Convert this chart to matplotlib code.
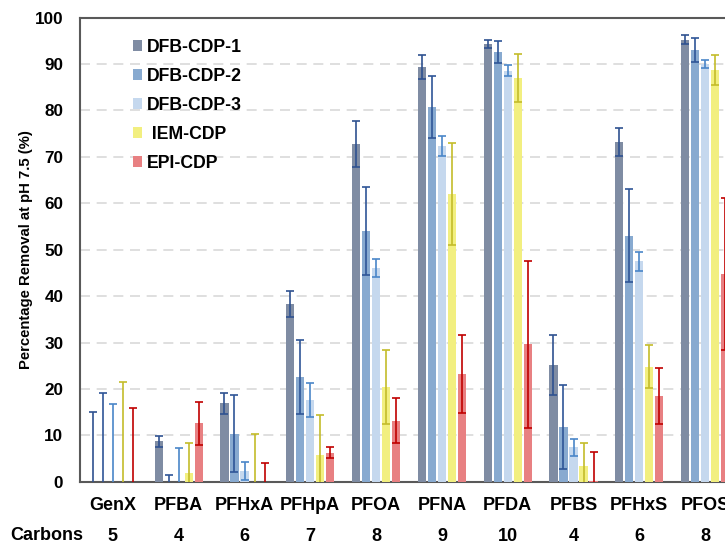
import numpy as np
import matplotlib
matplotlib.use("Agg")
import matplotlib.pyplot as plt
from matplotlib.patches import Patch

plt.rcParams['font.family'] = ['Liberation Sans', 'DejaVu Sans']
plt.rcParams['font.weight'] = 'bold'

# data
compounds = ['GenX', 'PFBA', 'PFHxA', 'PFHpA', 'PFOA', 'PFNA', 'PFDA', 'PFBS', 'PFHxS', 'PFOS']
carbons = [5, 4, 6, 7, 8, 9, 10, 4, 6, 8]
series = ['DFB-CDP-1', 'DFB-CDP-2', 'DFB-CDP-3', ' IEM-CDP', 'EPI-CDP']

dfb1 = [0, 8.7, 16.9, 38.3, 72.8, 89.4, 94.3, 25.2, 73.2, 95.2]
dfb1_err = [15.0, 1.1, 2.3, 2.8, 5.0, 2.6, 0.8, 6.4, 3.0, 1.0]
dfb2 = [0, 0, 10.4, 22.6, 54.0, 80.7, 92.6, 11.8, 53.0, 93.0]
dfb2_err = [19.1, 1.5, 8.3, 7.9, 9.4, 6.6, 2.3, 9.0, 10.0, 2.5]
dfb3 = [0, 0, 2.3, 17.6, 46.0, 72.3, 88.5, 7.4, 47.5, 90.0]
dfb3_err = [16.7, 7.3, 2.0, 3.6, 1.9, 2.2, 1.2, 1.8, 2.0, 0.9]
iem = [0, 1.8, 0, 5.8, 20.4, 61.9, 87.0, 3.5, 24.8, 88.7]
iem_err = [21.6, 6.5, 10.2, 8.5, 7.9, 11.0, 5.2, 4.9, 4.7, 3.3]
epi = [0, 12.6, 0, 6.3, 13.2, 23.3, 29.6, 0.2, 18.5, 44.7]
epi_err = [15.8, 4.6, 4.1, 1.1, 4.8, 8.4, 18.0, 6.3, 6.0, 16.4]

values = [dfb1, dfb2, dfb3, iem, epi]
errors = [dfb1_err, dfb2_err, dfb3_err, iem_err, epi_err]
bar_colors = ['#7f8ca3', '#88aad0', '#c5d8ee', '#f2ef80', '#e88082']
err_colors = ['#2f5290', '#2f5597', '#4a86c8', '#c4bc2a', '#c00000']

fig = plt.figure(figsize=(7.25, 5.44), dpi=100)
ax = fig.add_axes([80 / 725, 62.2 / 544, 658 / 725, 464.3 / 544])

x = np.arange(len(compounds))
pitch = 0.152
width = 0.122
for i in range(5):
    pos = x + (i - 2) * pitch
    ax.bar(pos, values[i], width, color=bar_colors[i], zorder=3)
    ax.errorbar(pos, values[i], yerr=errors[i], fmt='none', ecolor=err_colors[i],
                elinewidth=1.2, capsize=2.7, capthick=1.2, zorder=4)

ax.set_xlim(-0.5, len(compounds) - 0.5)
ax.set_ylim(0, 100)
ax.set_yticks(np.arange(0, 101, 10))
ax.yaxis.grid(True, color='#d9d9d9', linestyle=(0, (6, 4)), linewidth=1.2, zorder=0)
ax.set_axisbelow(True)

ax.set_xticks(x)
ax.set_xticklabels(compounds, fontsize=13, fontweight='bold')
ax.tick_params(axis='x', length=0, pad=11)
ax.tick_params(axis='y', length=0, pad=12, labelsize=12.3)
for lab in ax.get_yticklabels():
    lab.set_fontweight('bold')

for s in ['left', 'top', 'bottom']:
    ax.spines[s].set_color('#595959')
    ax.spines[s].set_linewidth(1.5)
ax.spines['right'].set_visible(False)

ax.set_ylabel('Percentage Removal at pH 7.5 (%)', fontsize=10.7, fontweight='bold', labelpad=1)

# carbon count row
for xi, c in zip(x, carbons):
    ax.text(xi, -0.118, str(c), transform=ax.get_xaxis_transform(), ha='center', va='center',
            fontsize=13, fontweight='bold')
fig.text(10 / 725, 1 - 536 / 544, 'Carbons', ha='left', va='center', fontsize=13, fontweight='bold')

handles = [Patch(facecolor=c) for c in bar_colors]
ax.legend(handles, series, loc='upper left', bbox_to_anchor=(0.056, 0.988), frameon=False,
          handlelength=0.55, handleheight=0.55, handletextpad=0.25, labelspacing=0.68,
          prop={'size': 12.7, 'weight': 'bold'})

fig.savefig('out.png', dpi=100)
